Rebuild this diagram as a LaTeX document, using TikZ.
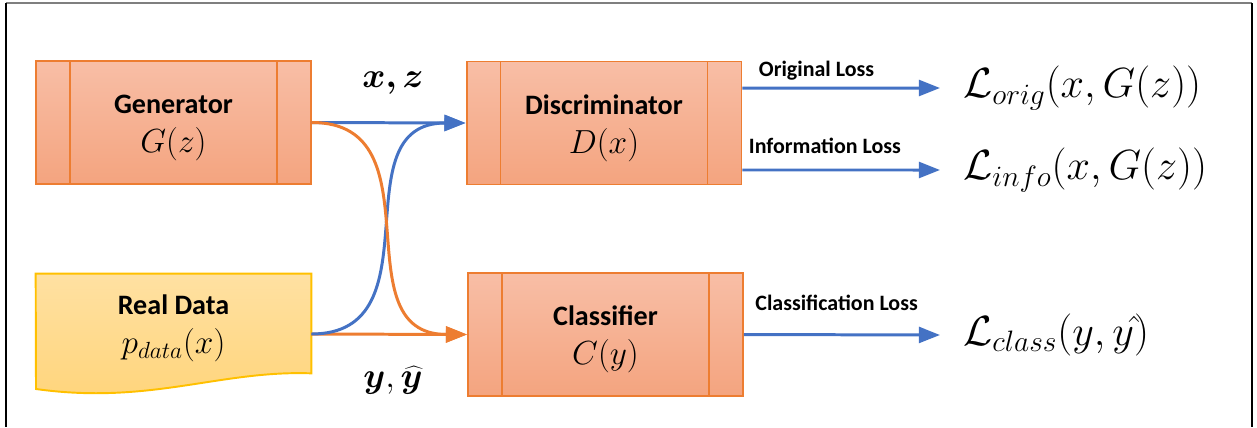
\RequirePackage{fix-cm}
\documentclass[tikz,border=0pt]{standalone}
\usepackage[no-math]{fontspec}
\setmainfont{Carlito}
\usepackage{bm}
\usetikzlibrary{arrows.meta,backgrounds}

\definecolor{boxline}{HTML}{ED7D31}
\definecolor{boxtop}{HTML}{F8BEA6}
\definecolor{boxbottom}{HTML}{F4A47F}
\definecolor{dataline}{HTML}{FFC000}
\definecolor{datatop}{HTML}{FFE1A2}
\definecolor{databottom}{HTML}{FFD47A}
\definecolor{arrowblue}{HTML}{4472C4}
\definecolor{framegray}{HTML}{7F7F7F}

% title line and formula line of a box
\newcommand{\boxtext}[2]{\rule{0pt}{17pt}#1\\{\fontsize{19}{22}\selectfont$#2$}}

\tikzset{
    procbox/.style={draw=boxline, line width=1.1pt, top color=boxtop, bottom color=boxbottom,
        minimum width=5.5cm, minimum height=2.46cm, inner sep=0pt, align=center,
        font=\fontsize{16}{22}\selectfont\bfseries,
        path picture={
            \draw[boxline, line width=1.1pt]
                ([xshift=0.68cm]path picture bounding box.north west) -- ([xshift=0.68cm]path picture bounding box.south west)
                ([xshift=-0.68cm]path picture bounding box.north east) -- ([xshift=-0.68cm]path picture bounding box.south east);}},
    databox/.style={minimum width=5.5cm, minimum height=1.98cm, inner sep=0pt, align=center,
        font=\fontsize{16}{22}\selectfont\bfseries},
    flow/.style={line width=1.7pt, -{Triangle[length=12pt,width=9pt]}},
    lossname/.style={text=black, font=\fontsize{12.5}{15}\selectfont\bfseries, inner sep=0pt, anchor=base west},
    lossterm/.style={font=\fontsize{24}{28}\selectfont, inner sep=0pt, anchor=west},
    pairlabel/.style={font=\fontsize{20}{24}\selectfont, inner sep=0pt}
}

\begin{document}
\begin{tikzpicture}[x=0.02cm, y=-0.02cm]
    \useasboundingbox (0,0) rectangle (1257,427);
    % frame
    \draw[framegray, line width=1.2pt] (6,3) -- (1252,3);
    \draw[line width=1.2pt] (6,3) -- (6,427) (1252,3) -- (1252,427);

    % boxes
    \node[procbox] (gen) at (173.5,122.5) {\boxtext{Generator}{G(z)}};
    \node[procbox] (disc) at (604,123) {\boxtext{Discriminator}{D(x)}};
    \node[procbox] (clf) at (605.5,334.5) {\boxtext{Classifier}{C(y)}};
    \node[databox] (data) at (173.5,323.5) {\boxtext{Real Data}{p_{data}(x)}};
    \begin{scope}[on background layer]
        \draw[draw=dataline, line width=1.1pt, top color=datatop, bottom color=databottom]
            (data.north west) -- (data.north east) -- (data.south east)
            .. controls (220,370) and (150,405) .. (36,389) -- cycle;
    \end{scope}
    \coordinate (dataout) at ([yshift=-0.21cm]data.east);

    % inputs
    \draw[flow, arrowblue] (gen.east) -- (disc.west);
    \draw[flow, boxline] (dataout) -- (clf.west);
    \draw[flow, arrowblue] (dataout) to[out=0, in=180, looseness=1.25] (disc.west);
    \draw[flow, boxline] (gen.east) to[out=0, in=180, looseness=1.25] (clf.west);
    \node[pairlabel] (xz) at (393,83) {$\bm{x,z}$};
    \node[pairlabel] (yy) at (393,380) {$\bm{y},\bm{\widehat{y}}$};

    % losses
    \node[lossterm] (lorig) at (963,88) {$\mathcal{L}_{orig}(x,G(z))$};
    \node[lossterm] (linfo) at (963,170) {$\mathcal{L}_{info}(x,G(z))$};
    \node[lossterm] (lclass) at (963,335) {$\mathcal{L}_{class}(y,y\hat{})$};
    \draw[flow, arrowblue] ([yshift=0.7cm]disc.east) -- ([xshift=-0.46cm]lorig.west)
        node[lossname, pos=0, xshift=0.3cm, yshift=0.24cm] {Original Loss};
    \draw[flow, arrowblue] ([yshift=-0.94cm]disc.east) -- ([xshift=-0.46cm]linfo.west)
        node[lossname, pos=0, xshift=0.1cm, yshift=0.34cm] {Information Loss};
    \draw[flow, arrowblue] (clf.east) -- ([xshift=-0.46cm]lclass.west)
        node[lossname, pos=0, xshift=0.2cm, yshift=0.48cm] {Classification Loss};
\end{tikzpicture}
\end{document}
